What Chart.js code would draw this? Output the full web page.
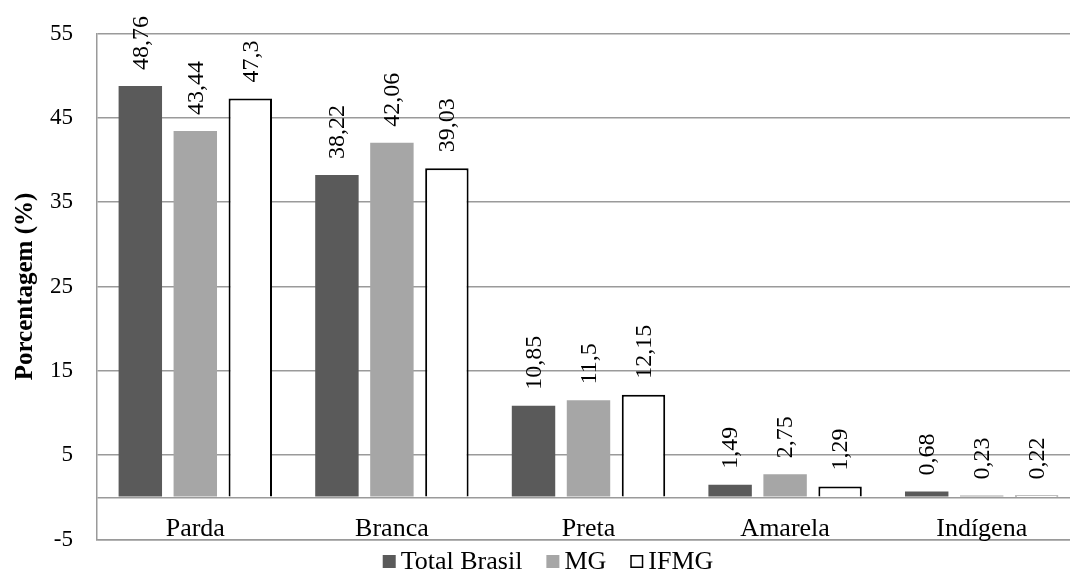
<!DOCTYPE html>
<html>
<head>
<meta charset="utf-8">
<script src="https://cdn.jsdelivr.net/npm/chart.js@4.4.1/dist/chart.umd.min.js"></script>
<style>
html, body { margin: 0; padding: 0; background: #fff; overflow: hidden; }
</style>
</head>
<body>
<!-- o gráfico original é cortado na direita, por isso o canvas é um pouco mais largo -->
<canvas id="grafico" width="1080" height="572"></canvas>
<script>
// Dados do gráfico (cor/raça)
const categorias = ['Parda', 'Branca', 'Preta', 'Amarela', 'Indígena'];
const series = ['Total Brasil', 'MG', 'IFMG'];
const totalBrasil = [48.76, 38.22, 10.85, 1.49, 0.68];
const mg = [43.44, 42.06, 11.5, 2.75, 0.23];
const ifmg = [47.3, 39.03, 12.15, 1.29, 0.22];
const ticksY = [-5, 5, 15, 25, 35, 45, 55];
const linhaZero = 0;

const fonte = "'Liberation Serif', 'Times New Roman', serif";
const corGrade = '#9a9a9a';

Chart.defaults.font.family = fonte;
Chart.defaults.color = '#000';

// rótulos verticais em cima das barras
const rotulosBarras = {
    id: 'rotulosBarras',
    afterDatasetsDraw(chart) {
        const ctx = chart.ctx;
        ctx.save();
        ctx.font = '24px ' + fonte;
        ctx.fillStyle = '#000';
        chart.data.datasets.forEach((ds, i) => {
            const meta = chart.getDatasetMeta(i);
            meta.data.forEach((barra, j) => {
                const texto = String(ds.data[j]).replace('.', ',');
                ctx.save();
                ctx.translate(barra.x + 1, barra.y - 16);
                ctx.rotate(-Math.PI / 2);
                ctx.textAlign = 'left';
                ctx.textBaseline = 'middle';
                ctx.fillText(texto, 0, 0);
                ctx.restore();
            });
        });
        ctx.restore();
    }
};

// nomes das categorias entre a linha do zero e o -5
const rotulosCategorias = {
    id: 'rotulosCategorias',
    afterDraw(chart) {
        const ctx = chart.ctx;
        const x = chart.scales.x;
        const y0 = chart.scales.y.getPixelForValue(linhaZero);
        ctx.save();
        ctx.font = '26px ' + fonte;
        ctx.fillStyle = '#000';
        ctx.textAlign = 'center';
        ctx.textBaseline = 'alphabetic';
        categorias.forEach((c, i) => {
            ctx.fillText(c, x.getPixelForValue(i), y0 + 39);
        });
        ctx.restore();
    }
};

// legenda embaixo, com quadradinhos colados no texto
const legenda = {
    id: 'legenda',
    afterDraw(chart) {
        const ctx = chart.ctx;
        ctx.save();
        ctx.font = '26px ' + fonte;
        ctx.textBaseline = 'alphabetic';
        ctx.textAlign = 'left';
        const caixa = 13, espaco = 5, gap = 24;
        const itens = chart.data.datasets.map(ds => ({ ds, w: ctx.measureText(ds.label).width }));
        let total = 0;
        itens.forEach(it => total += caixa + espaco + it.w);
        total += gap * (itens.length - 1);
        let x = chart.width / 2 + 8 - total / 2;
        const yTexto = 569;
        itens.forEach(it => {
            ctx.fillStyle = it.ds.backgroundColor;
            ctx.fillRect(x, 555, caixa, caixa);
            if (it.ds.borderWidth) {
                ctx.strokeStyle = it.ds.borderColor;
                ctx.lineWidth = 1.5;
                ctx.strokeRect(x + 0.75, 555.75, caixa - 1.5, caixa - 1.5);
            }
            ctx.fillStyle = '#000';
            ctx.fillText(it.ds.label, x + caixa + espaco, yTexto);
            x += caixa + espaco + it.w + gap;
        });
        ctx.restore();
    }
};

const ctx = document.getElementById('grafico').getContext('2d');

new Chart(ctx, {
    type: 'bar',
    data: {
        labels: categorias,
        datasets: [
            { label: series[0], data: totalBrasil, backgroundColor: '#5a5a5a', borderWidth: 0 },
            { label: series[1], data: mg, backgroundColor: '#a6a6a6', borderWidth: 0 },
            { label: series[2], data: ifmg, backgroundColor: '#ffffff', borderColor: '#000000', borderWidth: 2 }
        ]
    },
    options: {
        responsive: false,
        animation: false,
        layout: { padding: { top: 33.5, left: 9, right: 0, bottom: 32.5 } },
        datasets: {
            bar: { categoryPercentage: 0.839, barPercentage: 0.79 }
        },
        plugins: {
            legend: { display: false },
            tooltip: { enabled: false }
        },
        scales: {
            x: {
                grid: { display: false },
                ticks: { display: false },
                border: { display: true, color: corGrade, width: 1.5 },
                afterFit(scale) { scale.height = 0; }
            },
            y: {
                min: -5,
                max: 55,
                afterBuildTicks(scale) {
                    scale.ticks = ticksY.concat([linhaZero]).sort((a, b) => a - b).map(v => ({ value: v }));
                },
                afterFit(scale) { scale.width = 88; },
                ticks: {
                    padding: 0,
                    font: { size: 23 },
                    callback: (v) => v === linhaZero ? '' : v
                },
                grid: {
                    color: corGrade,
                    lineWidth: 1.5,
                    drawTicks: true,
                    tickLength: 24,
                    tickColor: 'rgba(0,0,0,0)'
                },
                border: { display: true, color: corGrade, width: 1.5 },
                title: {
                    display: true,
                    text: 'Porcentagem (%)',
                    font: { size: 25, weight: 'bold' },
                    padding: { top: 2, bottom: 0 }
                }
            }
        }
    },
    plugins: [rotulosBarras, rotulosCategorias, legenda]
});
</script>
</body>
</html>
